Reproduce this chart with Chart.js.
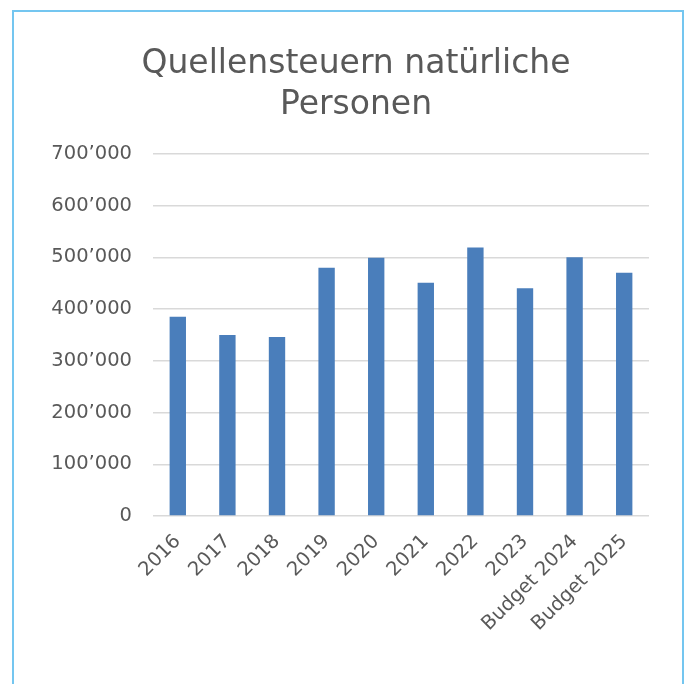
<!DOCTYPE html>
<html>
  <head>
    <meta charset="utf-8">
    <title>Quellensteuern natürliche Personen</title>
    <style>
      body { margin: 0; background: #fff; }
      #wrap { position: relative; width: 688px; height: 684px; overflow: hidden; }
      #frame { position: absolute; left: 12px; top: 10px; width: 668px; height: 720px; border: 2px solid #74c6f0; }
      #chart1 { position: absolute; left: 0; top: 0; }
    </style>
  </head>
  <body>
    <div id="wrap">
      <div id="frame"></div>
      <canvas id="chart1" width="688" height="684"></canvas>
    </div>
    <script src="https://cdn.jsdelivr.net/npm/chart.js"></script>
    <script>
      const years = ['2016', '2017', '2018', '2019', '2020', '2021', '2022', '2023', 'Budget 2024', 'Budget 2025'];
      const amounts = [385000, 350000, 346000, 480000, 499000, 451000, 519000, 440000, 500000, 470000];
      const yMax = 700000;
      const yStep = 100000;

      const grey = '#595959';
      const fontName = "'DejaVu Sans', sans-serif";

      function swiss(v) {
        return String(v).replace(/\B(?=(\d{3})+(?!\d))/g, '\u2019');
      }

const ctx = document.getElementById('chart1');
chart1 = new Chart(ctx, {
  type: 'bar',
  data: {
    labels: years,
    datasets: [{
      data: amounts,
      backgroundColor: '#4a7ebb',
      borderWidth: 0,
      barPercentage: 0.33,
      categoryPercentage: 1
    }]
  },
  options: {
    responsive: false,
    animation: false,
    devicePixelRatio: 1,
    // uneven side padding puts the title centre where the original has it
    layout: {
      padding: { left: 24, right: 0, top: 0, bottom: 0 }
    },
    scales: {
      y: {
        min: 0,
        max: yMax,
        ticks: {
          stepSize: yStep,
          padding: 21,
          color: grey,
          font: { family: fontName, size: 19.5 },
          callback: (v) => swiss(v)
        },
        grid: { color: '#d9d9d9', lineWidth: 1.5, drawTicks: false },
        border: { display: false },
        afterFit: (s) => { s.width = 129; }
      },
      // empty right axis, only used as a spacer
      yRight: {
        position: 'right',
        min: 0,
        max: yMax,
        ticks: { display: false },
        grid: { display: false },
        border: { display: false },
        afterFit: (s) => { s.width = 39; }
      },
      x: {
        ticks: {
          minRotation: 45,
          maxRotation: 45,
          autoSkip: false,
          padding: 6,
          color: grey,
          font: { family: fontName, size: 19.5 }
        },
        grid: { display: false },
        border: { display: false },
        afterFit: (s) => { s.height = 168; }
      }
    },
    plugins: {
      legend: { display: false },
      tooltip: { enabled: false },
      title: {
        display: true,
        text: ['Quellensteuern natürliche', 'Personen'],
        color: grey,
        font: { family: fontName, size: 33, weight: 'normal', lineHeight: 1.27 },
        padding: { top: 43, bottom: 27 }
      }
    }
  }
});
    </script>
  </body>
</html>
